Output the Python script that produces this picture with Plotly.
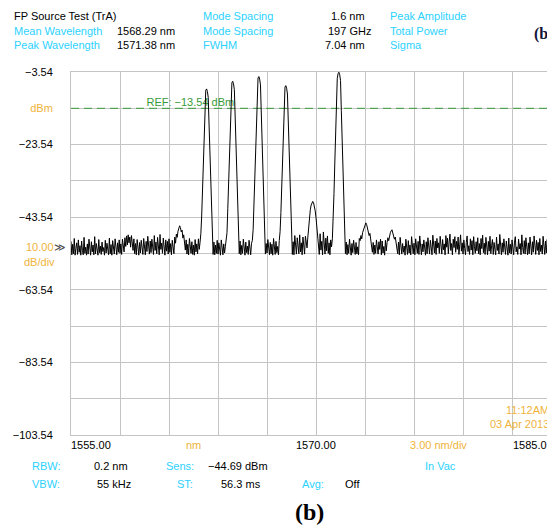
import numpy as np
import plotly.graph_objects as go

# ---------------- data ----------------
wl_start = 1555.0      # nm, first sample
wl_step = 0.05         # nm between samples

dbm = [
    # 1555
    -50.2, -53.9, -51.0, -53.6, -49.4, -54.0, -52.1, -50.6, -53.8, -49.8, -53.2, -51.4, -54.0, -50.1, -52.7, -53.9, -49.1, -53.5, -51.8, -54.0,
    # 1556
    -50.9, -53.7, -49.6, -52.4, -54.0, -50.3, -53.1, -51.2, -53.9, -48.9, -53.6, -50.8, -52.9, -54.0, -49.7, -53.3, -51.5, -53.8, -50.4, -53.0,
    # 1557
    -51.9, -54.0, -49.9, -53.4, -50.7, -52.2, -53.9, -49.3, -53.6, -51.1, -54.0, -50.0, -52.6, -53.7, -49.5, -51.8, -53.9, -50.6, -53.2, -49.8,
    # 1558
    -53.5, -50.9, -53.8, -49.6, -52.4, -53.1, -49.2, -51.6, -48.7, -51.2, -48.4, -50.6, -49.0, -51.8, -48.6, -50.9, -52.7, -49.5, -53.6, -50.8,
    # 1559
    -53.9, -49.7, -52.8, -54.0, -50.5, -53.4, -49.9, -51.7, -53.8, -49.4, -52.5, -53.9, -50.2, -53.0, -48.8, -52.2, -53.7, -50.1, -53.3, -49.6,
    # 1560
    -52.0, -53.8, -48.6, -52.7, -50.4, -53.6, -49.1, -51.9, -53.9, -48.3, -52.4, -50.7, -53.5, -49.3, -51.6, -54.0, -49.8, -52.9, -50.2, -53.7,
    # 1561
    -49.5, -53.2, -50.8, -53.9, -49.9, -52.3, -53.6, -49.0, -50.7, -48.2, -49.1, -47.4, -46.5, -45.9, -46.4, -47.6, -47.1, -49.3, -48.4, -50.9,
    # 1562
    -52.6, -49.8, -53.7, -51.0, -53.9, -49.4, -52.8, -53.5, -50.3, -53.8, -51.2, -54.0, -49.7, -53.1, -50.9, -53.6, -49.5, -52.4, -50.5, -48.0,
    # 1563
    -43.2, -35.0, -26.5, -18.2, -9.9, -8.6, -8.2, -8.9, -10.5, -18.8, -27.0, -35.5, -43.5, -49.6, -53.8, -50.4, -53.9, -51.2, -53.5, -49.9,
    # 1564
    -53.7, -50.6, -53.2, -54.0, -49.8, -52.5, -53.9, -50.9, -53.4, -51.6, -50.2, -47.8, -41.1, -32.9, -24.4, -16.1, -7.8, -6.5, -6.1, -6.8,
    # 1565
    -8.4, -16.7, -24.9, -33.4, -41.4, -48.5, -53.6, -50.1, -53.9, -51.3, -53.5, -49.6, -52.9, -54.0, -50.4, -53.3, -51.5, -53.8, -49.9, -52.6,
    # 1566
    -53.9, -50.7, -50.0, -47.0, -39.8, -31.5, -23.1, -14.8, -6.5, -5.2, -4.8, -5.5, -7.1, -15.4, -23.7, -32.0, -40.2, -47.5, -53.7, -50.8,
    # 1567
    -53.4, -49.7, -52.8, -53.9, -50.5, -53.6, -51.0, -54.0, -49.4, -52.7, -53.8, -50.2, -53.3, -51.6, -53.9, -50.0, -47.5, -42.3, -34.0, -25.6,
    # 1568
    -17.3, -9.0, -7.7, -7.3, -8.0, -9.6, -17.9, -26.2, -34.5, -42.7, -49.0, -53.8, -50.3, -53.9, -48.6, -52.5, -53.7, -49.2, -51.8, -53.6,
    # 1569
    -48.4, -53.1, -50.6, -53.9, -49.0, -52.2, -53.7, -48.8, -51.5, -52.0, -49.0, -46.0, -43.5, -41.5, -40.2, -39.5, -39.2, -39.6, -40.4, -41.8,
    # 1570
    -43.7, -46.3, -49.2, -52.3, -53.8, -48.1, -52.6, -50.2, -53.9, -47.6, -51.4, -53.7, -49.3, -52.8, -48.7, -53.5, -50.6, -53.9, -49.8, -51.7,
    # 1571
    -49.5, -45.0, -37.0, -28.6, -20.3, -12.0, -5.3, -4.0, -3.6, -4.3, -5.9, -14.2, -22.5, -30.8, -39.0, -46.8, -53.6, -50.4, -53.9, -51.1,
    # 1572
    -53.5, -49.6, -52.7, -54.0, -50.8, -53.3, -49.9, -52.1, -53.8, -50.5, -53.6, -51.7, -53.9, -49.4, -50.0, -48.6, -49.5, -47.8, -47.0, -46.3,
    # 1573
    -45.5, -45.1, -45.6, -46.8, -47.3, -48.6, -48.0, -49.9, -50.8, -53.2, -50.5, -53.8, -51.2, -53.5, -49.8, -52.9, -53.7, -50.3, -52.4, -49.6,
    # 1574
    -53.9, -50.1, -53.4, -51.6, -54.0, -49.9, -52.8, -50.5, -49.2, -50.0, -48.4, -47.8, -47.3, -47.0, -47.9, -48.5, -49.6, -49.0, -50.7, -52.3,
    # 1575
    -53.6, -50.4, -53.9, -49.1, -52.5, -53.7, -50.8, -53.2, -51.5, -54.0, -49.6, -52.9, -53.8, -50.0, -53.4, -51.2, -53.9, -48.9, -52.3, -53.6,
    # 1576
    -50.7, -53.9, -49.5, -51.8, -53.5, -50.2, -53.8, -48.7, -52.6, -53.9, -50.9, -53.1, -49.8, -52.4, -54.0, -50.3, -53.6, -49.2, -51.9, -53.7,
    # 1577
    -49.9, -52.8, -53.9, -48.5, -51.6, -53.4, -50.1, -53.8, -49.4, -52.0, -50.6, -53.5, -48.8, -51.3, -53.7, -49.7, -52.5, -50.9, -53.9, -48.6,
    # 1578
    -51.8, -49.3, -53.6, -50.4, -48.2, -52.7, -50.8, -53.9, -49.6, -51.9, -48.9, -53.2, -50.2, -52.4, -49.0, -53.8, -51.1, -48.4, -52.9, -50.6,
    # 1579
    -53.7, -49.8, -52.1, -53.9, -50.5, -48.7, -53.0, -51.4, -53.8, -49.5, -52.6, -50.0, -53.9, -48.9, -51.7, -53.5, -50.3, -52.8, -49.2, -53.6,
    # 1580
    -50.8, -53.9, -49.4, -52.2, -48.5, -53.3, -50.7, -53.8, -49.1, -51.6, -53.9, -50.2, -52.9, -48.8, -53.6, -51.3, -49.7, -53.8, -50.5, -52.4,
    # 1581
    -53.9, -49.0, -52.7, -50.9, -53.7, -48.3, -52.0, -53.9, -50.6, -53.2, -49.5, -51.8, -53.8, -50.1, -52.6, -54.0, -49.3, -53.4, -51.0, -53.7,
    # 1582
    -49.8, -52.5, -53.9, -50.4, -48.9, -53.1, -51.7, -53.8, -49.6, -52.3, -50.8, -53.9, -48.4, -51.9, -53.5, -50.0, -53.7, -49.2, -52.8, -53.9,
    # 1583
    -50.6, -53.6, -49.0, -52.1, -53.9, -50.3, -53.2, -48.7, -51.5, -53.8, -49.9, -52.7, -50.5, -53.9, -49.4, -53.0, -51.2, -53.7, -48.8, -52.2,
    # 1584
    -53.8, -50.1, -53.4, -49.7, -52.6, -53.9, -50.8, -53.1, -49.3, -51.9, -53.7, -50.2, -52.9, -48.6, -53.6, -51.0, -53.9, -49.5, -52.4, -53.8,
    # 1585
    -50.4,
]

x_range = [1555.0, 1584.63]
y_range = [-103.54, -3.54]
x_dtick = 3.0
ref_level = -13.54
ref_label = "REF: −13.54 dBm"
ref_label_x = 1559.62

y_tickvals = [-3.54, -13.54, -23.54, -33.54, -43.54, -53.54, -63.54, -73.54, -83.54, -93.54, -103.54]
y_ticktext = ["−3.54", "dBm", "−23.54", "", "−43.54", "", "−63.54", "", "−83.54", "", "−103.54"]

x_label_vals = [1555.0, 1562.5, 1570.0, 1577.5, 1585.0]
x_label_text = ["1555.00", "nm", "1570.00", "3.00 nm/div", "1585.0"]
x_label_kind = ["num", "unit", "num", "unit", "num"]
x_label_anchor = ["left", "center", "center", "center", "right"]

header_labels = [
    ("FP Source Test (TrA)", "k", 14, 16),
    ("Mean Wavelength", "c", 14, 31), ("1568.29 nm", "k", 117, 31),
    ("Peak Wavelength", "c", 14, 45.5), ("1571.38 nm", "k", 117, 45.5),
    ("Mode Spacing", "c", 203, 16), ("1.6 nm", "k", 331, 16),
    ("Mode Spacing", "c", 203, 31), ("197 GHz", "k", 328, 31),
    ("FWHM", "c", 203, 45.5), ("7.04 nm", "k", 325, 45.5),
    ("Peak Amplitude", "c", 390, 16),
    ("Total Power", "c", 390, 31),
    ("Sigma", "c", 390, 45.5),
]
footer_labels = [
    ("RBW:", "c", 32, 466), ("0.2 nm", "k", 94, 466),
    ("Sens:", "c", 166, 466), ("−44.69 dBm", "k", 208, 466),
    ("In Vac", "c", 425, 466),
    ("VBW:", "c", 32, 484), ("55 kHz", "k", 97, 484),
    ("ST:", "c", 177, 484), ("56.3 ms", "k", 221, 484),
    ("Avg:", "c", 302, 484), ("Off", "k", 345, 484),
]

# ---------------- styles / layout ----------------
OFF = 8                       # page body margin in the browser
PAD = 2                       # annotation inner padding
W, H = 547, 522
ML, MT = 71 - OFF, 72 - OFF   # plot area top-left in figure pixels
PLOT_BOTTOM = 435 - OFF
MB = H - PLOT_BOTTOM
PW, PH = W - ML, PLOT_BOTTOM - MT
CYAN = "#2CD2FF"
ORANGE = "#EFB33A"
GREEN = "#389A38"
GRID = "#C4C4C4"
FONT = "Liberation Sans, Arial, sans-serif"
SERIF = "Liberation Serif, Times New Roman, serif"
colors = {"c": CYAN, "k": "#000000", "o": ORANGE}


def px(x, y):
    """page pixel -> paper coordinates"""
    x, y = x - OFF, y - OFF
    return (x - ML) / PW, (PLOT_BOTTOM - y) / PH


wl = wl_start + wl_step * np.arange(len(dbm))

fig = go.Figure()

# reference line and its label (under the trace)
fig.add_trace(go.Scatter(
    x=x_range, y=[ref_level, ref_level], mode="lines",
    line=dict(color=GREEN, width=1, dash="8px,5px"), hoverinfo="skip"))
fig.add_trace(go.Scatter(
    x=[ref_label_x], y=[ref_level], mode="text", text=[ref_label],
    textposition="top right", textfont=dict(color=GREEN, size=11, family=FONT),
    hoverinfo="skip"))

# spectrum trace
fig.add_trace(go.Scatter(
    x=wl, y=dbm, mode="lines", line=dict(color="black", width=1), hoverinfo="skip"))

ann = []
for text, c, x, y in header_labels + footer_labels:
    xp, yp = px(x - PAD, y)
    ann.append(dict(text=text, x=xp, y=yp, xref="paper", yref="paper",
                    xanchor="left", yanchor="middle", showarrow=False,
                    font=dict(color=colors[c], size=11, family=FONT)))

# x-axis labels (the last one sits at the visible right edge)
shift = {"left": -PAD, "center": 0, "right": -12}
for v, t, k, a in zip(x_label_vals, x_label_text, x_label_kind, x_label_anchor):
    xp = (v - x_range[0]) / (x_range[1] - x_range[0])
    ann.append(dict(text=t, x=xp, y=0, xref="paper", yref="paper", yshift=-10,
                    xshift=shift[a], xanchor=a, yanchor="middle", showarrow=False,
                    font=dict(color=ORANGE if k == "unit" else "black", size=11, family=FONT)))

# left scale info
xp, yp = px(68, 247)
ann.append(dict(text=f"<span style='color:{ORANGE}'>10.00</span><span style='color:#444'>≫</span>",
                x=xp, y=yp, xref="paper", yref="paper", xanchor="right", yanchor="middle",
                showarrow=False, font=dict(size=11, family=FONT)))
xp, yp = px(57, 262)
ann.append(dict(text="dB/div", x=xp, y=yp, xref="paper", yref="paper", xanchor="right",
                yanchor="middle", showarrow=False, font=dict(color=ORANGE, size=11, family=FONT)))

# time stamp
for t, y in (("11:12AM", 410), ("03 Apr 2013", 424)):
    xp, yp = px(551, y)
    ann.append(dict(text=t, x=xp, y=yp, xref="paper", yref="paper", xanchor="right",
                    yanchor="middle", showarrow=False, font=dict(color=ORANGE, size=11, family=FONT)))

# figure captions
xp, yp = px(532, 34)
ann.append(dict(text="<b>(b)</b>", x=xp, y=yp, xref="paper", yref="paper", xanchor="left",
                yanchor="middle", showarrow=False,
                font=dict(color="#15153A", size=16, family=SERIF)))
xp, yp = px(309, 512)
ann.append(dict(text="<b>(b)</b>", x=xp, y=yp, xref="paper", yref="paper", xanchor="center",
                yanchor="middle", showarrow=False,
                font=dict(color="black", size=24, family=SERIF)))

ticktext = [f"<span style='color:{ORANGE}'>{t}</span>" if t == "dBm" else t for t in y_ticktext]

fig.update_layout(
    width=W, height=H,
    margin=dict(l=ML, r=0, t=MT, b=MB, pad=0),
    paper_bgcolor="white", plot_bgcolor="white",
    showlegend=False, hovermode=False,
    font=dict(family=FONT, size=11, color="black"),
    annotations=ann,
    xaxis=dict(range=x_range, tick0=x_range[0], dtick=x_dtick, showgrid=True,
               gridcolor=GRID, gridwidth=1, showticklabels=False, ticks="",
               zeroline=False, showline=True, linecolor=GRID, linewidth=1, mirror=True,
               fixedrange=True),
    yaxis=dict(range=y_range, tickmode="array", tickvals=y_tickvals, ticktext=ticktext,
               showgrid=True, gridcolor=GRID, gridwidth=1, ticks="", ticklabelstandoff=15,
               zeroline=False, showline=True, linecolor=GRID, linewidth=1,
               tickfont=dict(size=11, family=FONT, color="black"), fixedrange=True),
)

fig.write_html("out.html")
